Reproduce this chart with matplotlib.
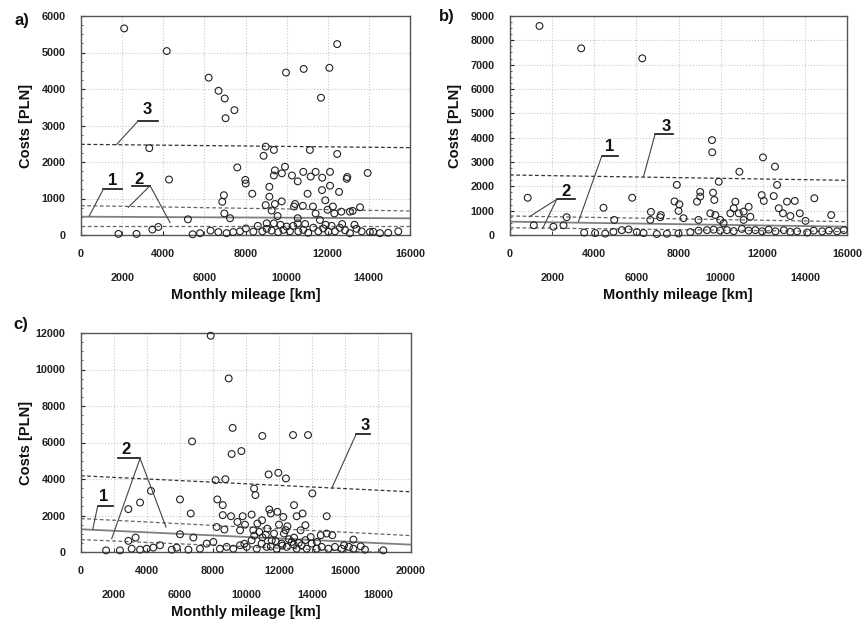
"""Costs vs monthly mileage: three scatter panels with regression line (1),
confidence band (2) and upper prediction limit (3)."""
import matplotlib
matplotlib.use("Agg")
import matplotlib.pyplot as plt
from matplotlib.ticker import MultipleLocator

# ---- panel a ----
a_mileage = [2100, 4170, 6210, 6690, 6990, 7030, 7460, 7600, 3320, 4280,
             9970, 10830, 12080, 12460, 11670, 8980, 8880, 9380, 11130, 12460,
             13940, 12920, 12950, 7990, 8010, 8330, 6950, 6870, 6970, 7250,
             5200, 9430, 9380, 9770, 9920, 10260, 10540, 10810, 11170, 11410,
             11730, 12110, 11720, 12110, 11020, 11880, 12550, 9160, 9160, 8980,
             9270, 9430, 9760, 9560, 9380, 9030, 10410, 10360, 10790, 11280,
             11410, 11990, 12250, 12320, 12660, 13080, 13210, 13570, 10540, 10540,
             11620,
             1820, 2700, 3470, 3760, 5430, 5790, 6300, 6680, 7080, 7400,
             7730, 8020, 8380, 8820, 9030, 9270, 9590, 9840, 10000, 10160,
             10320, 10570, 10810, 11050, 11300, 11540, 11780, 12030, 12190, 12350,
             12590, 12840, 13080, 13400, 13650, 14050, 14210, 14540, 14940, 15430,
             9700, 10900, 11900, 12700, 8600, 13300]
a_cost = [5660, 5040, 4310, 3950, 3740, 3200, 3420, 1850, 2380, 1520,
          4450, 4550, 4580, 5230, 3760, 2420, 2170, 2330, 2330, 2220,
          1700, 1540, 1590, 1510, 1410, 1130, 1090, 910, 590, 460,
          430, 1770, 1630, 1690, 1870, 1630, 1470, 1730, 1600, 1730,
          1570, 1730, 1230, 1350, 1130, 950, 1180, 1320, 1050, 820,
          670, 850, 920, 520, 320, 320, 850, 780, 800, 780,
          590, 690, 780, 590, 640, 640, 660, 760, 460, 320,
          410,
          30, 30, 150, 220, 20, 50, 120, 80, 50, 80,
          100, 180, 90, 100, 170, 120, 80, 140, 230, 100,
          250, 100, 140, 60, 200, 100, 180, 90, 250, 100,
          200, 130, 50, 170, 100, 80, 90, 50, 60, 100,
          280, 300, 280, 300, 250, 280]

# ---- panel b ----
b_mileage = [1400, 3380, 6280, 840, 1130, 2060, 2540, 2690, 4440, 4950,
             5800, 6690, 6660, 7130, 7160, 7920, 7810, 8040, 8000, 8240,
             9590, 9600, 9640, 9700, 9910, 9030, 9030, 8880, 8950, 9510,
             9750, 9980, 10140, 10460, 10620, 10700, 10860, 11090, 11330, 10890,
             12010, 11950, 12050, 12580, 12680, 12520, 12760, 12960, 13150, 13520,
             13310, 13760, 14030, 14450, 15250, 11090, 11410,
             3520, 4040, 4520, 4910, 5310, 5630, 6020, 6340, 6970, 7450,
             8000, 8560, 8950, 9350, 9670, 9980, 10300, 10620, 11010, 11330,
             11650, 11970, 12280, 12600, 13000, 13310, 13630, 14110, 14420, 14820,
             15140, 15530, 15850]
b_cost = [8590, 7670, 7260, 1530, 400, 340, 400, 730, 1120, 620,
          1530, 950, 620, 730, 820, 2060, 1380, 1260, 990, 690,
          3900, 3400, 1740, 1440, 2190, 1770, 1580, 1370, 620, 890,
          820, 620, 480, 890, 1100, 1370, 890, 960, 1160, 2600,
          3190, 1640, 1400, 2810, 2060, 1600, 1100, 890, 1370, 1400,
          780, 890, 580, 1510, 820, 620, 750,
          100, 80, 60, 130, 200, 230, 120, 80, 40, 50,
          60, 120, 180, 200, 220, 180, 200, 160, 250, 180,
          200, 150, 220, 150, 200, 130, 150, 100, 180, 150,
          180, 150, 200]

# ---- panel c ----
c_mileage = [7860, 8950, 9190, 9130, 9720, 10990, 12850, 13760, 6730, 6650,
             6000, 4240, 3580, 2870, 2870, 3310, 6000, 6810, 8160, 8750,
             8260, 8590, 8590, 8220, 8690, 9090, 9480, 9800, 9640, 9940,
             10340, 10490, 10570, 10440, 10690, 10970, 11370, 11960, 12420, 11410,
             11500, 11900, 12260, 12910, 13070, 13430, 13600, 14020, 14890, 12000,
             12510, 11290, 11700, 12300, 13310, 12910, 13920, 14530, 14890, 15230,
             16510, 15940, 16240, 16950, 18320,
             1520, 2360, 3070, 3580, 3980, 4380, 4790, 5500, 5800, 6510,
             7210, 7620, 8020, 8420, 8830, 9230, 9640, 10040, 10340, 10650,
             10950, 11250, 11560, 11860, 12160, 12470, 12770, 13070, 13370, 13680,
             13980, 14280, 14590, 14990, 15390, 15800, 16510, 17210,
             11000, 11800, 12600, 13200, 10500, 12200, 9900, 10800, 11500, 12900,
             13600, 14300, 11200, 12400]
c_cost = [11850, 9510, 6800, 5370, 5530, 6360, 6410, 6410, 6060, 2110,
          2880, 3350, 2710, 2350, 610, 790, 970, 790, 3940, 3990,
          2880, 2570, 2020, 1370, 1230, 1960, 1650, 1960, 1190, 1500,
          2050, 3480, 3120, 1190, 1560, 1740, 4250, 4340, 4030, 2330,
          2110, 2200, 1920, 2570, 1960, 2110, 1470, 3210, 1960, 1500,
          1410, 1280, 1010, 1010, 1190, 790, 820, 920, 1010, 920,
          680, 370, 280, 310, 90,
          90, 90, 180, 130, 180, 240, 370, 130, 240, 130,
          180, 460, 550, 180, 280, 180, 370, 280, 640, 180,
          460, 280, 640, 180, 460, 280, 550, 180, 370, 180,
          460, 180, 280, 180, 280, 180, 180, 130,
          800, 600, 700, 500, 900, 350, 450, 1100, 300, 400,
          650, 550, 950, 1200]

# fitted lines: value at left and right end of the x range
a_line1, a_band_hi, a_band_lo, a_line3 = [502, 457], [804, 658], [247, 247], [2484, 2393]
b_line1, b_band_hi, b_band_lo, b_line3 = [548, 342], [781, 548], [301, 137], [2466, 2247]
c_line1, c_band_hi, c_band_lo, c_line3 = [1246, 403], [1832, 898], [678, -92], [4177, 3298]

# callouts: label, text pos, bar (x0, x1, y), leader start, leader ends
a_callouts = [
    ("3", (3240, 3430), (2790, 3760, 3130), (2790, 3130), [(1730, 2480)]),
    ("1", (1540, 1480), (1090, 1980, 1260), (1090, 1260), [(400, 520)]),
    ("2", (2840, 1510), (2460, 3360, 1350), (3360, 1350), [(2300, 760), (4330, 340)]),
]
b_callouts = [
    ("3", (7420, 4450), (6890, 7730, 4150), (6890, 4150), [(6340, 2400)]),
    ("1", (4720, 3630), (4360, 5120, 3250), (4360, 3250), [(3250, 550)]),
    ("2", (2660, 1780), (2220, 3090, 1470), (2220, 1470), [(920, 750), (1550, 270)]),
]
c_callouts = [
    ("3", (17210, 6910), (16670, 17520, 6450), (16670, 6450), [(15190, 3480)]),
    ("1", (1390, 3020), (1010, 1920, 2510), (1010, 2510), [(710, 1230)]),
    ("2", (2730, 5640), (2260, 3580, 5130), (3580, 5130), [(1860, 730), (5150, 1370)]),
]

plt.rcParams.update({
    "font.family": ["Liberation Sans", "DejaVu Sans"],
    "font.weight": "bold",
})

W, H = 863, 621
fig = plt.figure(figsize=(W / 100, H / 100), dpi=100)


def px_axes(left, top, right, bottom):
    return fig.add_axes([left / W, 1 - bottom / H, (right - left) / W, (bottom - top) / H])


def draw_panel(ax, xs, ys, xmax, ymax, ystep, fits, callouts):
    line1, band_hi, band_lo, line3 = fits
    ends = [0, xmax]
    ax.plot(ends, line3, ls=(0, (3, 2)), color="#333333", lw=0.9, zorder=2)
    ax.plot(ends, band_hi, ls=(0, (3, 2)), color="#666666", lw=0.9, zorder=2)
    ax.plot(ends, band_lo, ls=(0, (3, 2)), color="#666666", lw=0.9, zorder=2)
    ax.plot(ends, line1, ls="-", color="#808080", lw=1.3, zorder=2)
    ax.scatter(xs, ys, s=24, facecolors="none", edgecolors="#222222",
               linewidths=0.8, zorder=3, clip_on=False)

    ax.set_xlim(0, xmax)
    ax.set_ylim(0, ymax)
    ax.set_xticks(range(0, xmax + 1, 4000))
    ax.set_xticks(range(2000, xmax, 4000), minor=True)
    ax.set_xticklabels([str(v) for v in range(0, xmax + 1, 4000)])
    ax.set_xticklabels([str(v) for v in range(2000, xmax, 4000)], minor=True)
    ax.yaxis.set_major_locator(MultipleLocator(ystep))
    ax.yaxis.set_minor_locator(MultipleLocator(ystep / 4))
    ax.tick_params(axis="x", which="major", direction="in", length=3, pad=10.3,
                   labelsize=7.8, colors="#222222")
    ax.tick_params(axis="x", which="minor", direction="in", length=3, pad=27.5,
                   labelsize=7.8, colors="#222222")
    ax.tick_params(axis="y", which="major", direction="in", length=3, pad=11,
                   labelsize=7.8, colors="#222222")
    ax.tick_params(axis="y", which="minor", direction="in", length=1.5, colors="#444444")
    ax.xaxis.grid(True, which="both", color="#c8c8c8", ls=":", lw=0.8)
    ax.yaxis.grid(True, which="major", color="#c8c8c8", ls=":", lw=0.8)
    ax.set_axisbelow(True)
    for sp in ax.spines.values():
        sp.set_color("#555555")
        sp.set_linewidth(1.0)

    for label, (tx, ty), (bx0, bx1, by), (lx, ly), targets in callouts:
        ax.text(tx, ty, label, fontsize=12, fontweight="bold", ha="center",
                va="center", color="#111111", zorder=5)
        ax.plot([bx0, bx1], [by, by], color="#111111", lw=1.2, zorder=5, clip_on=False)
        for ex, ey in targets:
            ax.plot([lx, ex], [ly, ey], color="#444444", lw=0.8, zorder=5, clip_on=False)


ax_a = px_axes(81, 16, 410, 235)
draw_panel(ax_a, a_mileage, a_cost, 16000, 6000, 1000,
           (a_line1, a_band_hi, a_band_lo, a_line3), a_callouts)
ax_b = px_axes(510, 16, 847, 235)
draw_panel(ax_b, b_mileage, b_cost, 16000, 9000, 1000,
           (b_line1, b_band_hi, b_band_lo, b_line3), b_callouts)
ax_c = px_axes(81, 333, 411, 552)
draw_panel(ax_c, c_mileage, c_cost, 20000, 12000, 2000,
           (c_line1, c_band_hi, c_band_lo, c_line3), c_callouts)


# axis titles and panel letters (pixel positions)
def ftext(x, y, s, **kw):
    fig.text(x / W, 1 - y / H, s, ha="center", va="center", fontweight="bold",
             color="#111111", **kw)


ftext(26, 126, "Costs [PLN]", fontsize=10.5, rotation=90)
ftext(455, 126, "Costs [PLN]", fontsize=10.5, rotation=90)
ftext(26, 443, "Costs [PLN]", fontsize=10.5, rotation=90)
ftext(246, 295, "Monthly mileage [km]", fontsize=10.5)
ftext(678, 295, "Monthly mileage [km]", fontsize=10.5)
ftext(246, 612, "Monthly mileage [km]", fontsize=10.5)
ftext(22, 21, "a)", fontsize=12)
ftext(447, 16, "b)", fontsize=12)
ftext(21, 325, "c)", fontsize=12)

fig.savefig("out.png", dpi=100)
